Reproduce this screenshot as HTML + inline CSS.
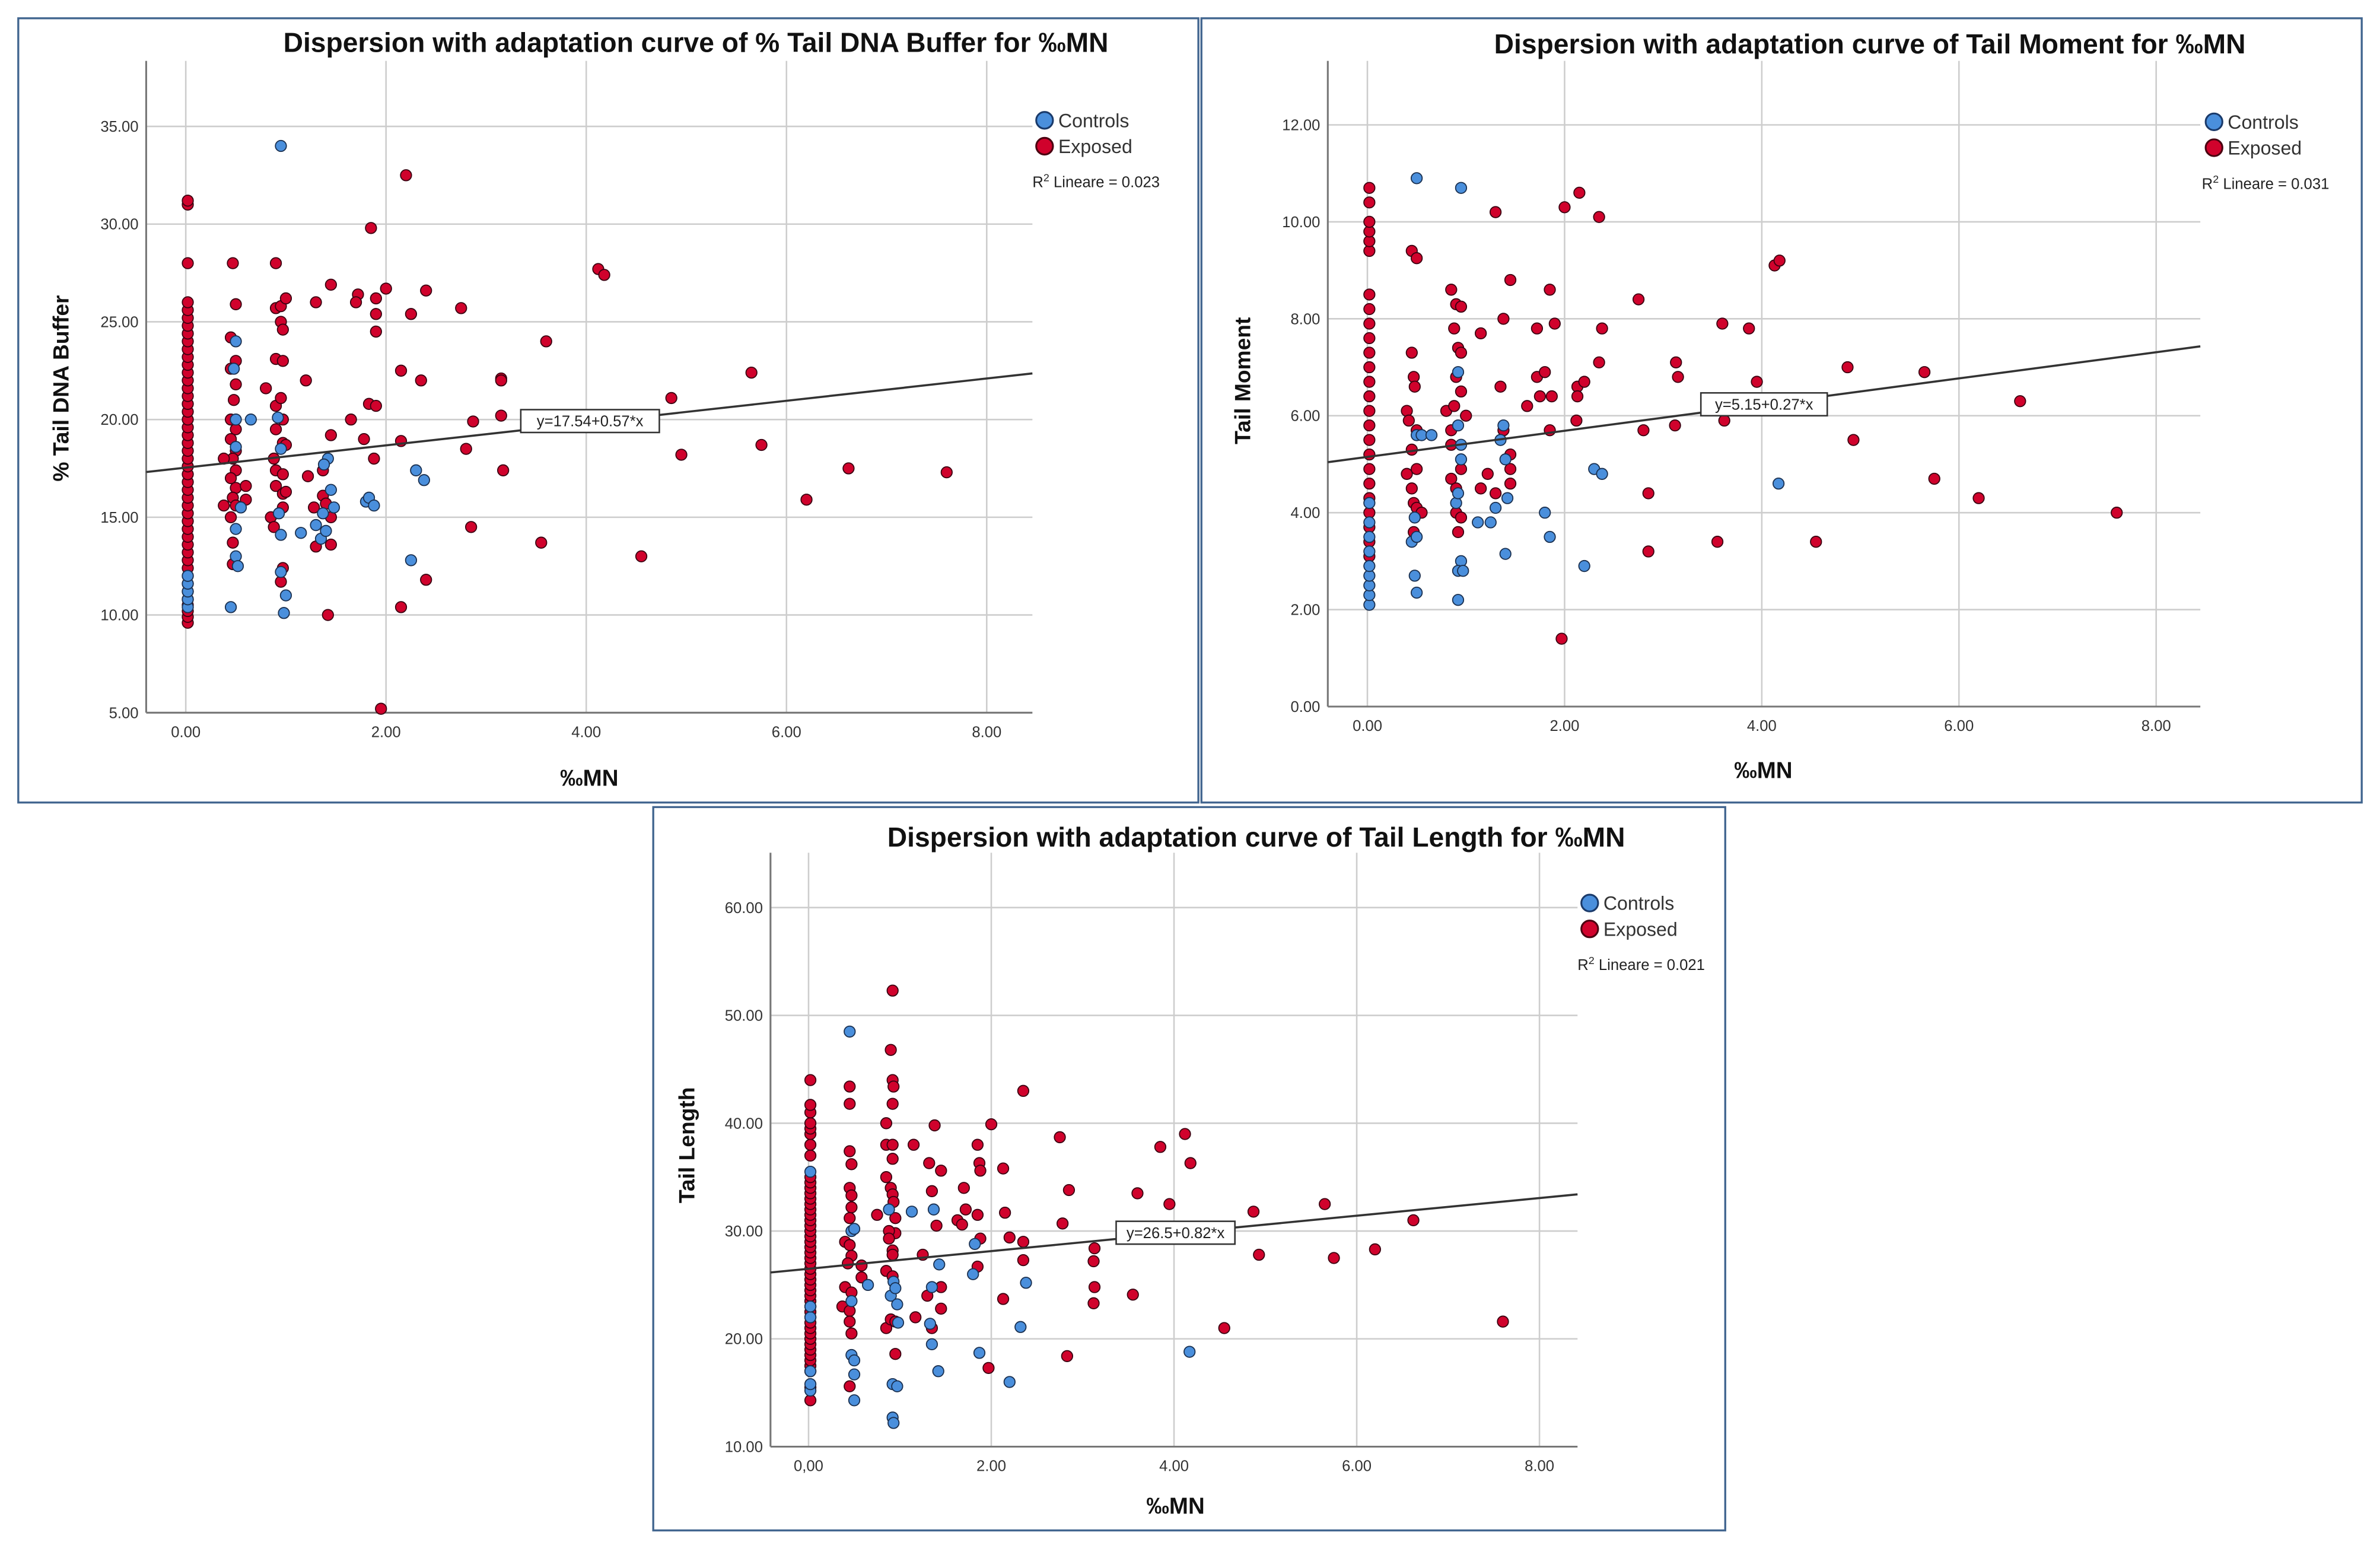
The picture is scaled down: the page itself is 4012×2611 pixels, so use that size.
<!DOCTYPE html>
<html><head><meta charset="utf-8"><style>
html,body{margin:0;padding:0;background:#fff;}
svg{display:block;}
text{font-family:"Liberation Sans Narrow","Liberation Sans",sans-serif;}
</style></head><body>
<svg id="root" xmlns="http://www.w3.org/2000/svg" width="4012" height="2611" viewBox="0 0 1563 1017.2" preserveAspectRatio="none">
<rect x="0" y="0" width="1563" height="1017.2" fill="#fff"/>
</svg>
<script>
// ===== Chart 1: % Tail DNA Buffer =====
const c1ExposedX0 = [9.6,9.9,10.2,10.5,10.8,11.2,11.6,12,12.4,12.8,13.2,13.6,14,14.4,14.8,15.2,15.6,16,16.4,16.8,17.2,17.6,18,18.4,18.8,19.2,19.6,20,20.4,20.8,21.2,21.6,22,22.4,22.8,23.2,23.6,24,24.4,24.8,25.2,25.6,26,28,31,31.2];
const c1ExposedPts = [[0.47,28],[0.5,25.9],[0.45,24.2],[0.5,23],[0.45,22.6],[0.5,21.8],[0.48,21],[0.45,20],[0.5,19.5],[0.45,19],[0.5,18.4],[0.47,18],[0.5,17.4],[0.45,17],[0.5,16.5],[0.47,16],[0.5,15.6],[0.45,15],[0.47,13.7],[0.47,12.6],[0.38,18],[0.38,15.6],[0.6,16.6],[0.6,15.9],[0.8,21.6],[0.9,28],[0.9,25.7],[0.9,23.1],[0.9,20.7],[0.9,19.5],[0.88,18],[0.9,17.4],[0.9,16.6],[0.85,15],[0.88,14.5],[0.95,25.8],[0.95,25],[0.97,24.6],[0.97,23],[0.95,21.1],[0.97,20],[0.97,18.8],[0.97,17.2],[0.97,16.2],[0.97,15.5],[0.97,12.4],[0.95,11.7],[1.0,26.2],[1.0,18.7],[1.0,16.3],[1.2,22],[1.22,17.1],[1.3,26],[1.28,15.5],[1.3,13.5],[1.37,16.1],[1.37,17.4],[1.4,15.7],[1.45,26.9],[1.45,19.2],[1.45,15],[1.45,13.6],[1.42,10],[1.65,20],[1.72,26.4],[1.7,26],[1.78,19],[1.85,29.8],[1.83,20.8],[1.9,25.4],[1.9,24.5],[1.9,20.7],[1.88,18],[1.9,26.2],[2.0,26.7],[2.15,22.5],[2.15,18.9],[2.15,10.4],[2.2,32.5],[2.25,25.4],[2.35,22],[2.4,26.6],[2.4,11.8],[2.75,25.7],[2.8,18.5],[2.87,19.9],[2.85,14.5],[3.15,22.1],[3.15,22],[3.15,20.2],[3.17,17.4],[3.55,13.7],[3.6,24],[4.12,27.7],[4.18,27.4],[4.55,13],[4.85,21.1],[4.95,18.2],[5.65,22.4],[5.75,18.7],[6.2,15.9],[6.62,17.5],[7.6,17.3],[1.95,5.2]];
const c1ControlsX0 = [10.4,10.8,11.2,11.6,12];
const c1ControlsPts = [[0.95,34],[0.5,24],[0.48,22.6],[0.5,20],[0.5,18.6],[0.5,14.4],[0.5,13],[0.52,12.5],[0.45,10.4],[0.65,20],[0.55,15.5],[0.92,20.1],[0.95,18.5],[0.93,15.2],[0.95,14.1],[0.95,12.2],[1.0,11],[0.98,10.1],[1.15,14.2],[1.3,14.6],[1.35,13.9],[1.37,15.2],[1.4,14.3],[1.42,18],[1.38,17.7],[1.45,16.4],[1.48,15.5],[1.8,15.8],[1.83,16],[1.88,15.6],[2.3,17.4],[2.38,16.9],[2.25,12.8]];
const c1YTicks = [5,10,15,20,25,30,35];
const c1YLabels = ["5.00","10.00","15.00","20.00","25.00","30.00","35.00"];
const c1XTicks = [0,2,4,6,8];
const c1XLabels = ["0.00","2.00","4.00","6.00","8.00"];
const c1Fit = [17.54, 0.57];

// ===== Chart 2: Tail Moment =====
const c2ExposedX0 = [3.1,3.4,3.7,4.0,4.3,4.6,4.9,5.2,5.5,5.8,6.1,6.4,6.7,7.0,7.3,7.6,7.9,8.2,8.5,9.4,9.6,9.8,10.0,10.4,10.7];
const c2ExposedPts = [[0.45,9.4],[0.5,9.25],[0.45,7.3],[0.47,6.8],[0.48,6.6],[0.4,6.1],[0.42,5.9],[0.45,5.3],[0.5,5.7],[0.4,4.8],[0.45,4.5],[0.47,4.2],[0.5,4.9],[0.5,4.1],[0.55,4.0],[0.47,3.6],[0.85,8.6],[0.9,8.3],[0.95,8.25],[0.88,7.8],[0.92,7.4],[0.95,7.3],[0.9,6.8],[0.95,6.5],[0.8,6.1],[0.88,6.2],[0.85,5.7],[0.85,5.4],[0.95,4.9],[0.85,4.7],[0.9,4.5],[0.9,4.0],[0.95,3.9],[0.92,3.6],[1.0,6.0],[1.15,7.7],[1.22,4.8],[1.15,4.5],[1.3,4.4],[1.3,10.2],[1.38,8.0],[1.35,6.6],[1.38,5.7],[1.45,5.2],[1.45,4.9],[1.45,4.6],[1.45,8.8],[1.62,6.2],[1.72,6.8],[1.72,7.8],[1.75,6.4],[1.8,6.9],[1.85,8.6],[1.87,6.4],[1.9,7.9],[1.85,5.7],[1.97,1.4],[2.0,10.3],[2.15,10.6],[2.13,6.6],[2.13,6.4],[2.2,6.7],[2.12,5.9],[2.35,10.1],[2.35,7.1],[2.38,7.8],[2.75,8.4],[2.8,5.7],[2.85,4.4],[2.85,3.2],[3.13,7.1],[3.15,6.8],[3.12,5.8],[3.55,3.4],[3.6,7.9],[3.62,5.9],[3.87,7.8],[3.95,6.7],[4.13,9.1],[4.18,9.2],[4.55,3.4],[4.87,7.0],[4.93,5.5],[5.65,6.9],[5.75,4.7],[6.2,4.3],[6.62,6.3],[7.6,4.0]];
const c2ControlsX0 = [2.1,2.3,2.5,2.7,2.9,3.2,3.5,3.8,4.2];
const c2ControlsPts = [[0.5,10.9],[0.95,10.7],[0.5,5.6],[0.55,5.6],[0.65,5.6],[0.45,3.4],[0.5,3.5],[0.48,3.9],[0.48,2.7],[0.5,2.35],[0.92,6.9],[0.92,5.8],[0.95,5.1],[0.95,5.4],[0.9,4.2],[0.92,4.4],[0.95,3.0],[0.92,2.8],[0.97,2.8],[0.92,2.2],[1.12,3.8],[1.25,3.8],[1.3,4.1],[1.35,5.5],[1.38,5.8],[1.4,5.1],[1.42,4.3],[1.4,3.15],[1.8,4.0],[1.85,3.5],[2.2,2.9],[2.3,4.9],[2.38,4.8],[4.17,4.6]];
const c2YTicks = [0,2,4,6,8,10,12];
const c2YLabels = ["0.00","2.00","4.00","6.00","8.00","10.00","12.00"];
const c2XTicks = [0,2,4,6,8];
const c2XLabels = ["0.00","2.00","4.00","6.00","8.00"];
const c2Fit = [5.15, 0.27];

// ===== Chart 3: Tail Length =====
const c3ExposedX0 = [14.3,15.5,17,17.5,18,18.5,19,19.5,20,20.5,21,21.5,22,22.5,23,23.5,24,24.5,25,25.5,26,26.5,27,27.5,28,28.5,29,29.5,30,30.5,31,31.5,32,32.5,33,33.5,34,34.5,35,37,38,39,39.5,40,41,41.7,44];
const c3ExposedPts = [[0.45,43.4],[0.45,41.8],[0.45,37.4],[0.47,36.2],[0.45,34],[0.47,33.3],[0.47,32.2],[0.45,31.2],[0.4,29],[0.45,28.7],[0.47,27.7],[0.43,27],[0.4,24.8],[0.47,24.3],[0.37,23],[0.45,22.6],[0.45,21.6],[0.47,20.5],[0.45,15.6],[0.58,26.8],[0.58,25.7],[0.75,31.5],[0.85,40],[0.85,38],[0.92,38],[0.9,46.8],[0.92,44],[0.93,43.4],[0.92,41.8],[0.92,36.7],[0.85,35],[0.9,34],[0.92,33.4],[0.93,32.7],[0.95,31.2],[0.95,29.8],[0.88,30],[0.88,29.3],[0.92,28.2],[0.92,27.8],[0.85,26.3],[0.92,25.8],[0.85,21],[0.9,21.8],[0.95,21.6],[0.95,18.6],[0.92,52.3],[1.15,38],[1.17,22],[1.25,27.8],[1.3,24],[1.32,36.3],[1.35,33.7],[1.4,30.5],[1.35,21],[1.38,39.8],[1.45,35.6],[1.45,24.8],[1.45,22.8],[1.7,34],[1.72,32],[1.63,31],[1.68,30.6],[1.85,38],[1.87,36.3],[1.88,35.6],[1.85,31.5],[1.88,29.3],[1.85,26.7],[1.97,17.3],[2.0,39.9],[2.13,35.8],[2.15,31.7],[2.2,29.4],[2.13,23.7],[2.35,43],[2.35,29],[2.35,27.3],[2.75,38.7],[2.78,30.7],[2.85,33.8],[2.83,18.4],[3.13,28.4],[3.12,27.2],[3.13,24.8],[3.12,23.3],[3.55,24.1],[3.6,33.5],[3.85,37.8],[3.95,32.5],[4.12,39],[4.18,36.3],[4.55,21],[4.87,31.8],[4.93,27.8],[5.65,32.5],[5.75,27.5],[6.2,28.3],[6.62,31],[7.6,21.6]];
const c3ControlsX0 = [15.2,15.8,17,22,23,35.5];
const c3ControlsPts = [[0.45,48.5],[0.47,30],[0.5,30.2],[0.47,23.5],[0.47,18.5],[0.5,18],[0.5,16.7],[0.5,14.3],[0.65,25],[0.9,24],[0.93,25.3],[0.95,24.7],[0.97,23.2],[0.92,15.8],[0.97,15.6],[0.92,12.7],[0.93,12.2],[0.98,21.5],[0.88,32],[1.13,31.8],[1.37,32],[1.33,21.4],[1.35,24.8],[1.35,19.5],[1.43,26.9],[1.42,17],[1.8,26],[1.82,28.8],[1.87,18.7],[2.2,16],[2.32,21.1],[2.38,25.2],[4.17,18.8]];
const c3YTicks = [10,20,30,40,50,60];
const c3YLabels = ["10.00","20.00","30.00","40.00","50.00","60.00"];
const c3XTicks = [0,2,4,6,8];
const c3XLabels = ["0,00","2.00","4.00","6.00","8.00"];
const c3Fit = [26.5, 0.82];

const NS = "http://www.w3.org/2000/svg";
const root = document.getElementById('root');
function mk(tag, attrs, parent) {
  const e = document.createElementNS(NS, tag);
  for (const k in attrs) e.setAttribute(k, attrs[k]);
  (parent || root).appendChild(e);
  return e;
}

function drawChart(L, D) {
  const g = mk('g', {});
  
  
  const border = mk('rect', {x:L.bx, y:L.by, width:L.bw, height:L.bh, fill:'#fff', stroke:'#41658f', 'stroke-width':1.3}, g);
  
  
  const sx = v => L.x0 + (v - 0) * (L.x8 - L.x0) / 8;
  const sy = v => L.yb + (v - L.ymin) * (L.yt - L.yb) / (L.ymax - L.ymin);
  D.yTicks.forEach((t, i) => {
    const y = sy(t);
    if (t !== L.ymin) {
      const gl = mk('line', {x1:L.ax, x2:L.ar, y1:y, y2:y, stroke:'#cdcdcd', 'stroke-width':1}, g);
      
      
    }
    const tl = mk('text', {x:L.ax - 5, y:y + 3.5, 'font-size':10, 'text-anchor':'end', fill:'#333'}, g);
    tl.textContent = D.yLabels[i];
    
    
  });
  D.xTicks.forEach((t, i) => {
    const x = sx(t);
    const gl = mk('line', {x1:x, x2:x, y1:L.top, y2:L.yb, stroke:'#cdcdcd', 'stroke-width':1}, g);
    
    
    const tl = mk('text', {x:x, y:L.yb + 16, 'font-size':10, 'text-anchor':'middle', fill:'#333'}, g);
    tl.textContent = D.xLabels[i];
    
    
  });
  const ya = mk('line', {x1:L.ax, x2:L.ax, y1:L.top, y2:L.yb, stroke:'#777', 'stroke-width':1.2}, g);
  
  
  const xa = mk('line', {x1:L.ax, x2:L.ar, y1:L.yb, y2:L.yb, stroke:'#777', 'stroke-width':1.2}, g);
  
  
  const pts = [];
  D.expX0.forEach(v => pts.push([0.02, v, 'e']));
  D.ctlX0.forEach(v => pts.push([0.02, v, 'c']));
  D.exp.forEach(p => pts.push([p[0], p[1], 'e']));
  D.ctl.forEach(p => pts.push([p[0], p[1], 'c']));
  pts.forEach(p => {
    const c = mk('circle', {cx:sx(p[0]), cy:sy(p[1]), r:3.6, fill:p[2]==='e'?'#d0022c':'#4a8fdc', stroke:p[2]==='e'?'#3a0010':'#1a3050', 'stroke-width':0.7}, g);
    
    
  });
  const xl0 = (L.ax - L.x0) * 8 / (L.x8 - L.x0);
  const xl1 = (L.ar - L.x0) * 8 / (L.x8 - L.x0);
  const fl = mk('line', {x1:L.ax, y1:sy(D.fit[0] + D.fit[1]*xl0), x2:L.ar, y2:sy(D.fit[0] + D.fit[1]*xl1), stroke:'#333', 'stroke-width':1.4}, g);
  
  
  const eb = mk('rect', {x:L.ex, y:L.ey, width:L.ew, height:15, fill:'#fff', stroke:'#333', 'stroke-width':1}, g);
  
  
  const et = mk('text', {x:L.ex + L.ew/2, y:L.ey + 11, 'font-size':10, 'text-anchor':'middle', fill:'#222'}, g);
  et.textContent = D.eq;
  
  
  const tt = mk('text', {x:L.tx, y:L.ty, 'font-size':18, 'font-weight':'bold', 'text-anchor':'middle', fill:'#111'}, g);
  tt.textContent = D.title;
  
  
  const yt = mk('text', {x:0, y:0, 'font-size':14.5, 'font-weight':'bold', 'text-anchor':'middle', fill:'#111', transform:'translate(' + L.ytx + ',' + L.yty + ') rotate(-90)', style:'font-family:"Liberation Sans",sans-serif'}, g);
  yt.textContent = D.ytitle;
  
  
  const xt = mk('text', {x:L.xtx, y:L.xty, 'font-size':15, 'font-weight':'bold', 'text-anchor':'middle', fill:'#111'}, g);
  xt.textContent = '‰MN';
  
  
  const lc1 = mk('circle', {cx:L.lx, cy:L.ly, r:5.5, fill:'#4a8fdc', stroke:'#1a3a6a', 'stroke-width':1.2}, g);
  
  
  const lt1 = mk('text', {x:L.lx + 9, y:L.ly + 4.5, 'font-size':12.5, fill:'#333'}, g);
  lt1.textContent = 'Controls';
  
  
  const lc2 = mk('circle', {cx:L.lx, cy:L.ly + 17, r:5.5, fill:'#d0022c', stroke:'#4a0010', 'stroke-width':1.2}, g);
  
  
  const lt2 = mk('text', {x:L.lx + 9, y:L.ly + 21.5, 'font-size':12.5, fill:'#333'}, g);
  lt2.textContent = 'Exposed';
  
  
  const r2 = mk('text', {x:L.lx - 8, y:L.ly + 44, 'font-size':10, fill:'#222'}, g);
  r2.innerHTML = 'R<tspan dy="-4" font-size="7">2</tspan><tspan dy="4"> Lineare = ' + D.r2 + '</tspan>';
  
  
}

drawChart(
  {name:'chart-tail-dna', bx:12, by:12, bw:775, bh:515, ax:96, ar:678, top:40, yb:468, yt:83, ymin:5, ymax:35, x0:122, x8:648, ex:342, ey:269, ew:91, tx:457, ty:34, ytx:45, yty:255, xtx:387, xty:516, lx:686, ly:79},
  {expX0:c1ExposedX0, exp:c1ExposedPts, ctlX0:c1ControlsX0, ctl:c1ControlsPts, yTicks:c1YTicks, yLabels:c1YLabels, xTicks:c1XTicks, xLabels:c1XLabels, fit:c1Fit, eq:'y=17.54+0.57*x', r2:'0.023', title:'Dispersion with adaptation curve of % Tail DNA Buffer for ‰MN', ytitle:'% Tail DNA Buffer'}
);
drawChart(
  {name:'chart-tail-moment', bx:789, by:12, bw:762, bh:515, ax:872, ar:1445, top:40, yb:464, yt:82, ymin:0, ymax:12, x0:898, x8:1416, ex:1117, ey:258, ew:83, tx:1228, ty:35, ytx:821, yty:250, xtx:1158, xty:511, lx:1454, ly:80},
  {expX0:c2ExposedX0, exp:c2ExposedPts, ctlX0:c2ControlsX0, ctl:c2ControlsPts, yTicks:c2YTicks, yLabels:c2YLabels, xTicks:c2XTicks, xLabels:c2XLabels, fit:c2Fit, eq:'y=5.15+0.27*x', r2:'0.031', title:'Dispersion with adaptation curve of Tail Moment for ‰MN', ytitle:'Tail Moment'}
);
drawChart(
  {name:'chart-tail-length', bx:429, by:530, bw:704, bh:475, ax:506, ar:1036, top:560, yb:950, yt:596, ymin:10, ymax:60, x0:531, x8:1011, ex:733, ey:802, ew:78, tx:825, ty:556, ytx:456, yty:752, xtx:772, xty:994, lx:1044, ly:593},
  {expX0:c3ExposedX0, exp:c3ExposedPts, ctlX0:c3ControlsX0, ctl:c3ControlsPts, yTicks:c3YTicks, yLabels:c3YLabels, xTicks:c3XTicks, xLabels:c3XLabels, fit:c3Fit, eq:'y=26.5+0.82*x', r2:'0.021', title:'Dispersion with adaptation curve of Tail Length for ‰MN', ytitle:'Tail Length'}
);
</script>
</body></html>
